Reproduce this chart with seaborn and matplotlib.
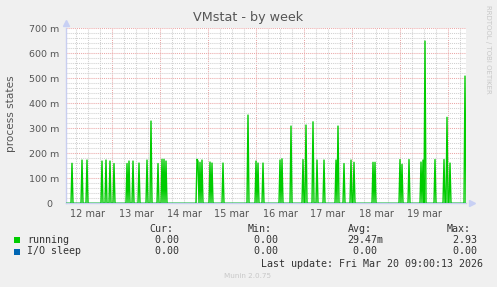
import matplotlib
matplotlib.use("Agg")
import matplotlib.pyplot as plt
import matplotlib.dates as mdates
import matplotlib.ticker as mticker
import matplotlib.transforms as mtrans
import numpy as np
import pandas as pd
import seaborn as sns

# ---------------- data ----------------
series_names = ["running", "I/O sleep"]
series_colors = ["#00CC00", "#0066B3"]

start_time = "2026-03-12 01:00"
end_time = "2026-03-20 09:00"
sample_step = "30min"

# spikes of "running": hours after 2026-03-12 00:00 and value in milli
spike_hours = [4.0, 9.0, 11.5, 19.0, 21.0, 23.0, 25.0, 31.5, 32.5, 34.5, 37.5,
               41.5, 43.5, 47.0, 49.0, 50.0, 51.0, 66.5, 67.0, 68.0, 69.0, 73.0,
               74.0, 79.5, 92.0, 96.0, 97.0, 99.5, 108.0, 109.0, 113.5, 119.5,
               121.0, 124.5, 126.5, 130.0, 136.0, 137.0, 140.0, 143.5, 145.0,
               154.5, 155.5, 168.0, 169.0, 172.5, 178.5, 179.5, 180.5, 185.5,
               190.0, 191.5, 193.0, 200.5]
spike_milli = [160, 173, 173, 169, 173, 169, 159, 159, 169, 169, 161,
               173, 329, 159, 176, 176, 169, 176, 169, 164, 173, 165,
               161, 161, 353, 169, 161, 161, 173, 178, 309, 175,
               313, 326, 173, 173, 173, 309, 159, 173, 164,
               164, 164, 175, 156, 175, 165, 173, 649, 175,
               175, 344, 161, 509]

y_ticks = [0, 0.1, 0.2, 0.3, 0.4, 0.5, 0.6, 0.7]
y_tick_labels = ["0", "100 m", "200 m", "300 m", "400 m", "500 m", "600 m", "700 m"]
day_labels = ["12 mar", "13 mar", "14 mar", "15 mar", "16 mar", "17 mar", "18 mar", "19 mar"]
day_label_dates = ["2026-03-12 12:00", "2026-03-13 12:00", "2026-03-14 12:00",
                   "2026-03-15 12:00", "2026-03-16 12:00", "2026-03-17 12:00",
                   "2026-03-18 12:00", "2026-03-19 12:00"]

legend_cur = ["0.00 ", "0.00 "]
legend_min = ["0.00 ", "0.00 "]
legend_avg = ["29.47m", "0.00 "]
legend_max = ["2.93 ", "0.00 "]

title = "VMstat - by week"
y_label = "process states"
last_update = "Last update: Fri Mar 20 09:00:13 2026"

# ---------------- build table ----------------
times = pd.date_range(start_time, end_time, freq=sample_step)
running = pd.Series(0.0, index=times)
base = pd.Timestamp("2026-03-12 00:00")
for h, v in zip(spike_hours, spike_milli):
    running[base + pd.Timedelta(hours=h)] = v / 1000.0
io_sleep = pd.Series(0.0, index=times)
df = pd.concat([
    pd.DataFrame({"time": times, "value": running.values, "series": series_names[0]}),
    pd.DataFrame({"time": times, "value": io_sleep.values, "series": series_names[1]}),
])

# ---------------- figure ----------------
sns.set_theme(style="white")
plt.rcParams["font.family"] = ["DejaVu Sans"]

W, H = 497, 287
fig = plt.figure(figsize=(W / 100, H / 100), dpi=100)
fig.patch.set_facecolor("#F0F0F0")

def fx(px):
    return px / W

def fy(py):
    return 1 - py / H

left_px, right_px, top_px, bot_px = 66, 466, 28.3, 203.3
ax = fig.add_axes([fx(left_px), fy(bot_px), (right_px - left_px) / W, (bot_px - top_px) / H])
ax.set_facecolor("white")

sns.lineplot(data=df[df.series == series_names[0]], x="time", y="value",
             color=series_colors[0], linewidth=1.0, ax=ax, legend=False,
             estimator=None, zorder=3)
sns.lineplot(data=df[df.series == series_names[1]], x="time", y="value",
             color=series_colors[1], linewidth=1.0, alpha=0.5, ax=ax, legend=False,
             estimator=None, zorder=4)

ax.set_xlim(pd.Timestamp(start_time), pd.Timestamp(end_time))
ax.set_ylim(0, 0.7)

# grid
major_c = "#EBA8A8"
minor_c = "#D0D0D0"
ax.xaxis.set_major_locator(mdates.HourLocator(byhour=[0]))
ax.xaxis.set_minor_locator(mdates.HourLocator(byhour=[6, 12, 18]))
ax.yaxis.set_major_locator(mticker.FixedLocator(y_ticks))
ax.yaxis.set_minor_locator(mticker.MultipleLocator(0.02))
ax.grid(True, which="minor", color=minor_c, linestyle=(0, (1, 1)), linewidth=0.75)
ax.grid(True, which="major", color=major_c, linestyle=(0, (1, 1)), linewidth=0.75)
ax.set_axisbelow(True)

ax.xaxis.set_major_formatter(mticker.NullFormatter())
label_pos = {round(mdates.date2num(pd.Timestamp(d)), 4): l for d, l in zip(day_label_dates, day_labels)}
ax.xaxis.set_minor_formatter(mticker.FuncFormatter(lambda v, p: label_pos.get(round(v, 4), "")))
ax.yaxis.set_major_formatter(mticker.FixedFormatter(y_tick_labels))

ax.tick_params(axis="x", which="major", length=2, color=major_c, width=0.8)
ax.tick_params(axis="x", which="minor", length=0, labelsize=7, labelcolor="#555555", pad=4)
ax.tick_params(axis="y", which="major", length=2, color="#C8CEF0", width=0.8,
               labelsize=6.8, labelcolor="#555555", pad=3)
ax.tick_params(axis="y", which="minor", length=0)

# shift the "0" label to the left like rrdtool
zero_lab = ax.get_yticklabels()[0]
zero_lab.set_transform(zero_lab.get_transform() + mtrans.ScaledTranslation(-7 / 100, 0, fig.dpi_scale_trans))

ax.set_xlabel("")
ax.set_ylabel("")
for s in ["top", "right"]:
    ax.spines[s].set_visible(False)
for s in ["left", "bottom"]:
    ax.spines[s].set_color("#C8CEF0")
    ax.spines[s].set_linewidth(1.0)

# axis arrows
ax.plot([0], [1.03], marker="^", markersize=5, color="#C8D0F4", transform=ax.transAxes,
        clip_on=False, zorder=5)
ax.plot([1.014], [0], marker=">", markersize=5, color="#C8D0F4", transform=ax.transAxes,
        clip_on=False, zorder=5)

# texts
fig.text(fx(248), fy(18), title, ha="center", va="center", fontsize=9.2, color="#555555")
fig.text(fx(11), fy(114), y_label, ha="center", va="center", rotation=90,
         fontsize=7.6, color="#555555")
fig.text(fx(488), fy(5), "RRDTOOL / TOBI OETIKER", ha="center", va="top", rotation=270,
         fontsize=5.0, color="#C8C8C8")
fig.text(fx(248), fy(276), "Munin 2.0.75", ha="center", va="center", fontsize=5.2,
         color="#C8C8C8")

mono = {"family": ["DejaVu Sans Mono"], "fontsize": 7.2, "color": "#333333"}
row_y = [240, 251.5]
head_y = 228.5
cols = [("Cur:", 149, 185, legend_cur), ("Min:", 248, 284, legend_min),
        ("Avg:", 348, 383, legend_avg), ("Max:", 447, 483, legend_max)]
for head, hx, rx, vals in cols:
    fig.text(fx(hx), fy(head_y), head, ha="left", va="center", **mono)
    for yy, v in zip(row_y, vals):
        fig.text(fx(rx), fy(yy), v, ha="right", va="center", **mono)
for yy, name, col in zip(row_y, series_names, series_colors):
    fig.patches.append(plt.Rectangle((fx(14), fy(yy + 3)), 6 / W, 6 / H, transform=fig.transFigure,
                                     facecolor=col, edgecolor="none", figure=fig))
    fig.text(fx(27), fy(yy), name, ha="left", va="center", **mono)
fig.text(fx(483), fy(264), last_update, ha="right", va="center", **mono)

fig.savefig("out.png", dpi=100, facecolor=fig.get_facecolor())
